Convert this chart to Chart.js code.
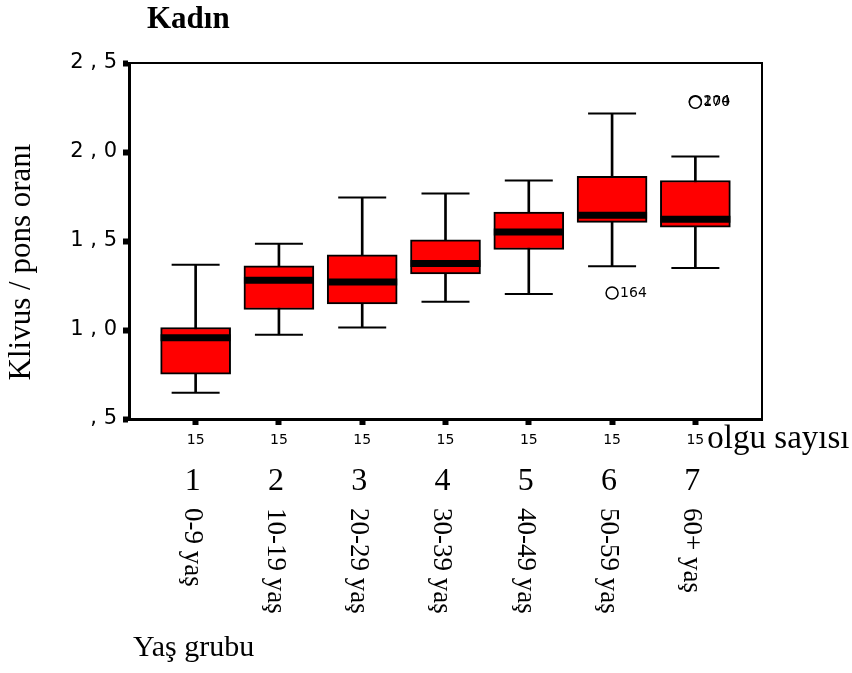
<!DOCTYPE html>
<html>
<head>
<meta charset="utf-8">
<script src="https://cdn.jsdelivr.net/npm/chart.js@4/dist/chart.umd.min.js"></script>
<style>
  html, body { margin: 0; padding: 0; background: #fff; }
  #wrap { width: 852px; height: 673px; }
</style>
</head>
<body>
<div id="wrap"><canvas id="c" width="852" height="673"></canvas></div>
<script>
const chartTitle = 'Kadın';
const yTitle = 'Klivus / pons oranı';
const xTitle = 'Yaş grubu';
const countTitle = 'olgu sayısı';
const categories = [1, 2, 3, 4, 5, 6, 7];
const groupLabels = ['0-9 yaş', '10-19 yaş', '20-29 yaş', '30-39 yaş', '40-49 yaş', '50-59 yaş', '60+ yaş'];
const counts = [15, 15, 15, 15, 15, 15, 15];
const minVals = [0.648, 0.973, 1.014, 1.159, 1.202, 1.358, 1.349];
const q1Vals = [0.752, 1.115, 1.146, 1.315, 1.452, 1.605, 1.577];
const medianVals = [0.956, 1.279, 1.269, 1.374, 1.551, 1.645, 1.622];
const q3Vals = [1.014, 1.360, 1.422, 1.506, 1.662, 1.863, 1.840];
const maxVals = [1.367, 1.484, 1.744, 1.767, 1.840, 2.216, 1.975];
const outlierCats = [6, 7, 7];
const outlierVals = [1.208, 2.283, 2.279];
const outlierIds = ['164', '204', '170'];
const yTicks = [0.5, 1.0, 1.5, 2.0, 2.5];
const yTickLabels = [', 5', '1 , 0', '1 , 5', '2 , 0', '2 , 5'];

const SERIF = '"Liberation Serif", "Times New Roman", serif';
const SANS = '"DejaVu Sans", sans-serif';

const textPlugin = {
  id: 'texts',
  beforeDatasetsDraw(chart) {
    const { ctx, chartArea: a } = chart;
    ctx.save();
    ctx.strokeStyle = '#000';
    ctx.lineWidth = 2;
    ctx.beginPath();
    ctx.moveTo(a.left, a.top);
    ctx.lineTo(a.right, a.top);
    ctx.lineTo(a.right, a.bottom);
    ctx.stroke();
    ctx.restore();
  },
  afterDraw(chart) {
    const { ctx, chartArea: a } = chart;
    const xs = chart.scales.x;
    ctx.save();
    ctx.fillStyle = '#000';
    // title
    ctx.font = 'bold 31px ' + SERIF;
    ctx.textAlign = 'left';
    ctx.textBaseline = 'alphabetic';
    ctx.fillText(chartTitle, a.left + 18, 28);
    // y title
    ctx.save();
    ctx.translate(22, 262);
    ctx.rotate(-Math.PI / 2);
    ctx.font = '31px ' + SERIF;
    ctx.textAlign = 'center';
    ctx.textBaseline = 'middle';
    ctx.fillText(yTitle, 0, 0);
    ctx.restore();
    // count title
    ctx.font = '33px ' + SERIF;
    ctx.textAlign = 'left';
    ctx.textBaseline = 'alphabetic';
    ctx.fillText(countTitle, xs.getPixelForValue(categories[categories.length - 1]) + 12, a.bottom + 29);
    // category numbers
    ctx.font = '32px ' + SERIF;
    ctx.textAlign = 'center';
    categories.forEach(c => {
      ctx.fillText(String(c), xs.getPixelForValue(c) - 3, a.bottom + 71);
    });
    // rotated group labels
    ctx.font = '27px ' + SERIF;
    categories.forEach((c, i) => {
      ctx.save();
      ctx.translate(xs.getPixelForValue(c) - 4, a.bottom + 89);
      ctx.rotate(Math.PI / 2);
      ctx.textAlign = 'left';
      ctx.textBaseline = 'middle';
      ctx.fillText(groupLabels[i], 0, 0);
      ctx.restore();
    });
    // x title
    ctx.font = '30px ' + SERIF;
    ctx.textAlign = 'left';
    ctx.textBaseline = 'alphabetic';
    ctx.fillText(xTitle, a.left + 4, a.bottom + 237);
    // outlier labels
    ctx.font = '14px ' + SANS;
    ctx.textBaseline = 'middle';
    const meta = chart.getDatasetMeta(chart.data.datasets.length - 1);
    meta.data.forEach((pt, i) => {
      ctx.fillText(outlierIds[i], pt.x + 8, pt.y);
    });
    ctx.restore();
  }
};

new Chart(document.getElementById('c'), {
  type: 'bar',
  data: {
    datasets: [
      {
        type: 'bar', order: 5, grouped: false,
        data: categories.map((c, i) => ({ x: c, y: [minVals[i], maxVals[i]] })),
        backgroundColor: '#000', borderWidth: 0, barThickness: 2
      },
      {
        type: 'bar', order: 4, grouped: false,
        data: categories.map((c, i) => ({ x: c, y: [q1Vals[i], q3Vals[i]] })),
        backgroundColor: '#ff0000', borderColor: '#000', borderWidth: 2,
        borderSkipped: false, barThickness: 70
      },
      {
        type: 'scatter', order: 3,
        data: categories.map((c, i) => ({ x: c, y: medianVals[i] })),
        pointStyle: 'line', pointRadius: 35, pointBorderWidth: 7, pointBorderColor: '#000'
      },
      {
        type: 'scatter', order: 2,
        data: categories.map((c, i) => ({ x: c, y: maxVals[i] })).concat(categories.map((c, i) => ({ x: c, y: minVals[i] }))),
        pointStyle: 'line', pointRadius: 24, pointBorderWidth: 2, pointBorderColor: '#000'
      },
      {
        type: 'scatter', order: 1,
        data: outlierCats.map((c, i) => ({ x: c, y: outlierVals[i] })),
        pointStyle: 'circle', pointRadius: 6, pointBorderWidth: 1.5,
        pointBorderColor: '#000', pointBackgroundColor: '#fff'
      }
    ]
  },
  options: {
    responsive: false,
    animation: false,
    events: [],
    layout: { padding: { left: 60, right: 90, top: 63, bottom: 224 } },
    plugins: { legend: { display: false }, tooltip: { enabled: false }, title: { display: false } },
    scales: {
      x: {
        type: 'linear', min: 0.2, max: 7.8, position: 'bottom', offset: false,
        afterBuildTicks: s => { s.ticks = categories.map(v => ({ value: v })); },
        afterFit: s => { s.height = 30; },
        border: { display: true, width: 3, color: '#000' },
        grid: { offset: false, drawOnChartArea: false, drawTicks: true, tickLength: 6, tickWidth: 6, tickColor: '#000', color: '#000' },
        ticks: {
          autoSkip: false, maxRotation: 0, padding: 7, color: '#000',
          font: { family: SANS, size: 14 },
          callback: (v, i) => String(counts[i])
        }
      },
      y: {
        type: 'linear', min: 0.5, max: 2.5,
        afterBuildTicks: s => { s.ticks = yTicks.map(v => ({ value: v })); },
        afterFit: s => { s.width = 69; },
        border: { display: true, width: 3, color: '#000' },
        grid: { drawOnChartArea: false, drawTicks: true, tickLength: 6, tickWidth: 6, tickColor: '#000', color: '#000' },
        ticks: {
          padding: 6, color: '#000',
          font: { family: SANS, size: 21 },
          callback: (v, i) => yTickLabels[i]
        }
      }
    }
  },
  plugins: [textPlugin]
});
</script>
</body>
</html>
